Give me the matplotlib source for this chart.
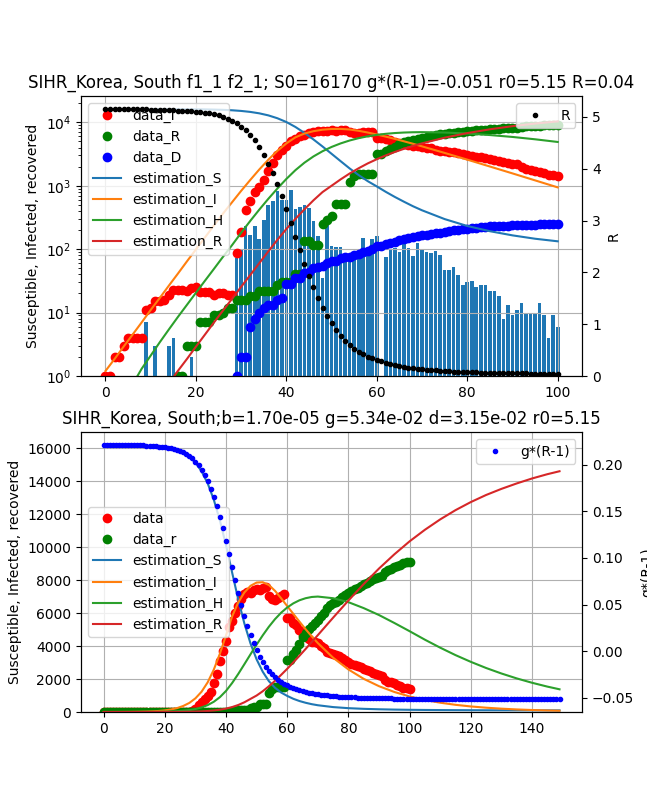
import numpy as np
import matplotlib
matplotlib.use('Agg')
import matplotlib.pyplot as plt

# daily series, day 0 .. 100
new_cases = [0, 0, 1, 0, 1, 1, 0, 0, 0, 7,
             1, 3, 0, 1, 3, 4, 1, 0, 1, 2,
             1, 0, 0, 0, 0, 1, 1, 1, 0, 73,
             100, 229, 169, 231, 144, 284, 505, 571, 813, 586,
             599, 851, 435, 467, 505, 448, 273, 164, 35, 242,
             114, 110, 107, 76, 74, 84, 93, 152, 87, 147,
             162, 0, 76, 100, 104, 91, 146, 105, 78, 125,
             101, 89, 86, 94, 81, 47, 47, 53, 39, 27,
             30, 32, 25, 27, 27, 22, 22, 18, 8, 13,
             9, 11, 14, 10, 10, 10, 14, 9, 4, 9,
             6]

data_i = [1, 1, 2, 2, 3, 4, 4, 4, 4, 11,
          12, 15, 15, 16, 19, 23, 23, 23, 22, 24,
          25, 21, 21, 21, 19, 20, 20, 19, 19, 87,
          186, 415, 578, 807, 945, 1227, 1731, 2302, 3107, 3689,
          4277, 5128, 5545, 6012, 6416, 6862, 7146, 7307, 7212, 7407,
          7470, 7403, 7504, 7577, 7024, 6832, 6789, 6934, 7018, 7157,
          5684, 5684, 5410, 5281, 4966, 4665, 4523, 4398, 4275, 4216,
          4155, 3979, 3867, 3654, 3591, 3500, 3445, 3408, 3246, 3125,
          3026, 2930, 2873, 2808, 2750, 2627, 2576, 2484, 2385, 2324,
          2233, 2179, 1967, 1841, 1799, 1730, 1652, 1592, 1459, 1454,
          1407]

data_r = [0, 0, 0, 0, 0, 0, 0, 0, 0, 0,
          0, 0, 0, 0, 0, 0, 1, 1, 3, 3,
          3, 7, 7, 7, 9, 9, 10, 12, 12, 16,
          16, 16, 18, 18, 22, 22, 22, 22, 27, 30,
          30, 30, 41, 41, 135, 135, 118, 118, 247, 288,
          333, 510, 510, 510, 1137, 1407, 1540, 1540, 1540, 1540,
          3166, 3166, 3507, 3730, 4144, 4528, 4811, 5033, 5228, 5408,
          5567, 5828, 6021, 6325, 6463, 6598, 6694, 6776, 6973, 7117,
          7243, 7368, 7447, 7534, 7616, 7757, 7829, 7937, 8042, 8114,
          8213, 8277, 8501, 8635, 8686, 8764, 8854, 8922, 9059, 9072,
          9123]

data_d = [0, 0, 0, 0, 0, 0, 0, 0, 0, 0,
          0, 0, 0, 0, 0, 0, 0, 0, 0, 0,
          0, 0, 0, 0, 0, 0, 0, 0, 0, 1,
          2, 2, 6, 8, 10, 12, 13, 13, 16, 17,
          28, 28, 35, 35, 42, 44, 50, 53, 54, 60,
          66, 66, 72, 75, 75, 81, 84, 91, 94, 102,
          111, 111, 120, 126, 131, 139, 144, 152, 158, 162,
          165, 169, 174, 177, 183, 186, 192, 200, 204, 208,
          211, 214, 217, 222, 225, 229, 230, 232, 234, 236,
          237, 238, 240, 242, 243, 244, 246, 247, 247, 248,
          250]

r_dots = [5.15, 5.15, 5.15, 5.15, 5.15, 5.15, 5.15, 5.15, 5.15, 5.15,
          5.14, 5.14, 5.14, 5.14, 5.13, 5.13, 5.12, 5.12, 5.11, 5.11,
          5.10, 5.09, 5.08, 5.07, 5.05, 5.03, 5.00, 4.97, 4.93, 4.88,
          4.81, 4.74, 4.65, 4.55, 4.42, 4.27, 4.10, 3.91, 3.70, 3.47,
          3.22, 2.96, 2.69, 2.43, 2.17, 1.93, 1.71, 1.51, 1.32, 1.16,
          1.02, 0.89, 0.78, 0.68, 0.60, 0.53, 0.47, 0.42, 0.375, 0.34,
          0.31, 0.285, 0.255, 0.232, 0.212, 0.194, 0.178, 0.164, 0.151, 0.140,
          0.131, 0.123, 0.115, 0.108, 0.102, 0.096, 0.090, 0.085, 0.081, 0.077,
          0.074, 0.071, 0.069, 0.066, 0.064, 0.061, 0.060, 0.058, 0.057, 0.055,
          0.053, 0.052, 0.051, 0.050, 0.048, 0.047, 0.046, 0.045, 0.044, 0.043,
          0.042]

# g*(R-1), day 0 .. 149
g_r = [0.2216, 0.2216, 0.2216, 0.2216, 0.2216, 0.2216, 0.2216, 0.2216, 0.2216, 0.2216,
       0.2211, 0.2211, 0.2211, 0.2211, 0.2205, 0.2205, 0.2200, 0.2200, 0.2195, 0.2195,
       0.2189, 0.2184, 0.2179, 0.2173, 0.2163, 0.2152, 0.2136, 0.2120, 0.2099, 0.2072,
       0.2035, 0.1997, 0.1949, 0.1896, 0.1826, 0.1746, 0.1655, 0.1554, 0.1442, 0.1319,
       0.1185, 0.1047, 0.0902, 0.0764, 0.0625, 0.0497, 0.0379, 0.0272, 0.0171, 0.0085,
       0.0011, -0.0059, -0.0117, -0.0171, -0.0214, -0.0251, -0.0283, -0.0310, -0.0334, -0.0352,
       -0.0368, -0.0382, -0.0398, -0.0410, -0.0421, -0.0430, -0.0439, -0.0446, -0.0453, -0.0459,
       -0.0464, -0.0468, -0.0473, -0.0476, -0.0480, -0.0483, -0.0486, -0.0489, -0.0491, -0.0493,
       -0.0494, -0.0496, -0.0497, -0.0499, -0.0500, -0.0501, -0.0502, -0.0503, -0.0504, -0.0505,
       -0.0506, -0.0506, -0.0507, -0.0507, -0.0508, -0.0509, -0.0509, -0.0510, -0.0511, -0.0511,
       -0.0512, -0.0512, -0.0512, -0.0512, -0.0513, -0.0513, -0.0513, -0.0513, -0.0514, -0.0514,
       -0.0514, -0.0514, -0.0514, -0.0515, -0.0515, -0.0515, -0.0515, -0.0515, -0.0515, -0.0516,
       -0.0516, -0.0516, -0.0516, -0.0516, -0.0516, -0.0516, -0.0516, -0.0516, -0.0516, -0.0516,
       -0.0516, -0.0516, -0.0517, -0.0517, -0.0517, -0.0517, -0.0517, -0.0517, -0.0517, -0.0517,
       -0.0517, -0.0517, -0.0517, -0.0517, -0.0517, -0.0517, -0.0517, -0.0517, -0.0517, -0.0517]

# model curves, read at these days
est_days = [0, 2, 4, 6, 8, 10, 12, 14, 16, 18, 20, 22, 24, 26, 28, 30, 32, 34,
            36, 38, 40, 42, 44, 46, 48, 50, 52, 54, 56, 58, 60, 62, 64, 66, 68, 70,
            75, 80, 85, 90, 95, 100, 105, 110, 115, 120, 125, 130, 135, 140, 145, 149]
est_s = [16170, 16169, 16167, 16165, 16160, 16155, 16145, 16130, 16110, 16085,
         16046, 15990, 15872, 15720, 15476, 15117, 14597, 13864, 12874, 11603,
         10108, 8448, 6814, 5362, 4155, 3188, 2439, 1872, 1470, 1180,
         975, 800, 665, 560, 475, 410, 298, 232, 192, 165,
         146, 133, 124, 117, 112, 108, 105, 103, 101, 100, 99, 98]
est_i = [1.2, 1.85, 2.9, 4.5, 7.0, 11, 17, 26.5, 41, 64,
         99, 153, 237, 365, 550, 830, 1230, 1800, 2570, 3540,
         4650, 5800, 6650, 7250, 7650, 7850, 7870, 7700, 7350, 6900,
         6420, 5950, 5480, 5020, 4590, 4180, 3290, 2580, 2010, 1565,
         1215, 942, 729, 564, 436, 337, 261, 202, 156, 121, 93, 76]
est_h = [0, 0.15, 0.38, 0.74, 1.3, 2.1, 3.4, 5.4, 8.5, 13.2,
         20.5, 31.8, 49, 76, 116, 181, 278, 419, 621, 901,
         1280, 1760, 2310, 2900, 3500, 4090, 4650, 5170, 5630, 6020,
         6340, 6590, 6775, 6900, 6975, 7000, 6900, 6660, 6300, 5880,
         5400, 4900, 4385, 3901, 3450, 3042, 2669, 2336, 2038, 1774, 1541, 1377]
est_r = [0, 0.002, 0.01, 0.03, 0.08, 0.2, 0.45, 0.75, 1.2, 1.85,
         2.9, 4.5, 7.0, 10.8, 16.5, 25.5, 39, 60, 92, 140,
         208, 300, 425, 590, 795, 1000, 1260, 1560, 1890, 2250,
         2620, 3010, 3410, 3820, 4240, 4660, 5720, 6760, 7760, 8700,
         9560, 10350, 11050, 11680, 12240, 12730, 13160, 13530, 13860, 14160, 14420, 14600]

days = np.arange(len(data_i))
ext_days = np.arange(len(g_r))
est_days = np.array(est_days)
top = est_days <= 100

fig = plt.figure(figsize=(6.47, 8), dpi=100)

ax1 = fig.add_subplot(2, 1, 1)
ax1.bar(days, new_cases, color='C0')
ax1.plot(days, data_i, 'ro', label='data_I')
ax1.plot(days, data_r, 'go', label='data_R')
ax1.plot(days, data_d, 'bo', label='data_D')
ax1.plot(est_days[top], np.array(est_s)[top], 'C0', label='estimation_S')
ax1.plot(est_days[top], np.array(est_i)[top], 'C1', label='estimation_I')
ax1.plot(est_days[top], np.array(est_h)[top], 'C2', label='estimation_H')
ax1.plot(est_days[top], np.array(est_r)[top], 'C3', label='estimation_R')
ax1.set_yscale('log')
ax1.set_ylim(1, 2.6e4)
ax1.grid(True)
ax1.set_ylabel('Susceptible, Infected, recovered')
ax1.legend(loc='upper left')
ax1.set_title('SIHR_Korea, South f1_1 f2_1; S0=16170 g*(R-1)=-0.051 r0=5.15 R=0.04')
ax2 = ax1.twinx()
ax2.plot(days, r_dots, 'k.', label='R')
ax2.set_ylim(0, 5.405)
ax2.set_ylabel('R')
ax2.legend(loc='upper right')

ax3 = fig.add_subplot(2, 1, 2)
ax3.plot(days, data_i, 'ro', label='data')
ax3.plot(days, data_r, 'go', label='data_r')
ax3.plot(est_days, est_s, 'C0', label='estimation_S')
ax3.plot(est_days, est_i, 'C1', label='estimation_I')
ax3.plot(est_days, est_h, 'C2', label='estimation_H')
ax3.plot(est_days, est_r, 'C3', label='estimation_R')
ax3.set_ylim(0, 16980)
ax3.grid(True)
ax3.set_ylabel('Susceptible, Infected, recovered')
ax3.legend(loc='center left')
ax3.set_title('SIHR_Korea, South;b=1.70e-05 g=5.34e-02 d=3.15e-02 r0=5.15')
ax4 = ax3.twinx()
ax4.plot(ext_days, g_r, 'b.', label='g*(R-1)')
ax4.set_ylabel('g*(R-1)')
ax4.legend(loc='upper right')

fig.savefig('out.png', dpi=100)
